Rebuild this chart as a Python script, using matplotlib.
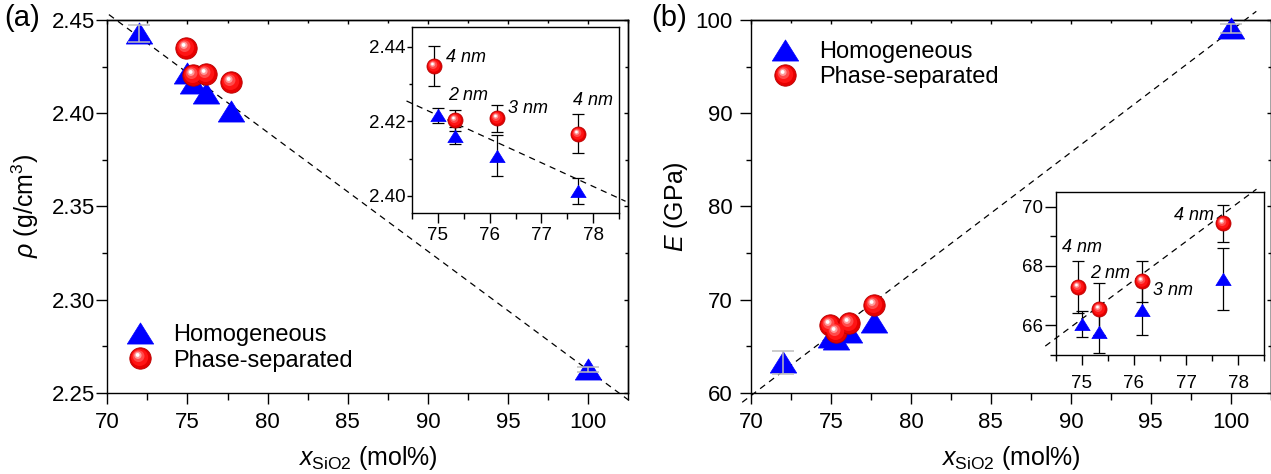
import numpy as np
import matplotlib
matplotlib.use('Agg')
import matplotlib.pyplot as plt
from matplotlib.path import Path
from matplotlib.legend_handler import HandlerTuple
from matplotlib.ticker import MultipleLocator, FormatStrFormatter

plt.rcParams['font.family'] = ['Liberation Sans', 'DejaVu Sans']
plt.rcParams['mathtext.fontset'] = 'custom'
plt.rcParams['mathtext.rm'] = 'Liberation Sans'
plt.rcParams['mathtext.it'] = 'Liberation Sans:italic'
plt.rcParams['mathtext.bf'] = 'Liberation Sans:bold'
plt.rcParams['axes.linewidth'] = 1.0

# ---------------- data ----------------
x_hom = [72.0, 75.0, 75.33, 76.15, 77.7, 100.0]
rho_hom = [2.4428, 2.4216, 2.4161, 2.4107, 2.4012, 2.2625]
rho_hom_err = [0.0046, 0.0020, 0.0023, 0.0055, 0.0035, 0.0015]
E_hom = [63.25, 66.03, 65.76, 66.51, 67.56, 99.1]
E_hom_err = [1.2, 0.44, 0.70, 0.84, 1.05, 0.5]

x_ps = [74.93, 75.33, 76.15, 77.7]
rho_ps = [2.4348, 2.4203, 2.4208, 2.4167]
rho_ps_err = [0.0053, 0.0028, 0.0037, 0.0052]
E_ps = [67.29, 66.55, 67.48, 69.43]
E_ps_err = [0.87, 0.86, 0.69, 0.61]
ps_sizes = ['4 nm', '2 nm', '3 nm', '4 nm']

rho_fit_x = [70.1, 102.6]
rho_fit_y = [2.4529, 2.2455]
E_fit_x = [69.45, 101.6]
E_fit_y = [58.97, 100.93]

labels = ['Homogeneous', 'Phase-separated']

# ---------------- styles ----------------
W, H = 1271, 474
fig = plt.figure(figsize=(W / 100, H / 100), dpi=100)

tri_path = Path([(-1, -0.8), (1, -0.8), (0, 0.8), (-1, -0.8)],
                [Path.MOVETO, Path.LINETO, Path.LINETO, Path.CLOSEPOLY])


def circ_path(cx, cy, r):
    c = Path.circle((cx, cy), r)
    verts = np.vstack([[[1.0, 1.0]], c.vertices])
    codes = np.concatenate([[Path.MOVETO], c.codes])
    return Path(verts, codes)


sphere_layers = [(-0.08, 0.10, 0.80, '#ff1414'),
                 (-0.18, 0.22, 0.55, '#ff4a4a'),
                 (-0.24, 0.30, 0.34, '#ff9a9a'),
                 (-0.27, 0.33, 0.18, '#ffffff')]


def spheres(ax, x, y, ms):
    hs = []
    h, = ax.plot(x, y, ls='none', marker='o', ms=ms, mfc='#e60000',
                 mec='#b80000', mew=0.6, clip_on=False, zorder=5)
    hs.append(h)
    for i, (cx, cy, r, col) in enumerate(sphere_layers):
        h, = ax.plot(x, y, ls='none', marker=circ_path(cx, cy, r), ms=ms,
                     mfc=col, mec='none', mew=0, clip_on=False,
                     zorder=5 + 0.01 * (i + 1))
        hs.append(h)
    return tuple(hs)


def triangles(ax, x, y, ms):
    h, = ax.plot(x, y, ls='none', marker=tri_path, ms=ms, mfc='#0000ff',
                 mec='#0000ff', mew=0.5, clip_on=False, zorder=4)
    return h


def style_main(ax, xmaj, xmin, ymaj, ymin, ypad):
    ax.xaxis.set_major_locator(MultipleLocator(xmaj))
    ax.xaxis.set_minor_locator(MultipleLocator(xmin))
    ax.yaxis.set_major_locator(MultipleLocator(ymaj))
    ax.yaxis.set_minor_locator(MultipleLocator(ymin))
    ax.tick_params(which='both', direction='out', top=False, right=False,
                   width=1.0, labelsize=16)
    ax.tick_params(axis='x', which='major', length=7.7, pad=6.5)
    ax.tick_params(axis='x', which='minor', length=4.8)
    ax.tick_params(axis='y', which='major', length=8, pad=ypad)
    ax.tick_params(axis='y', which='minor', length=3.8)
    sx = ax.secondary_xaxis('top')
    sx.xaxis.set_major_locator(MultipleLocator(xmaj))
    sx.xaxis.set_minor_locator(MultipleLocator(xmin))
    sx.tick_params(which='both', direction='in', labeltop=False, width=1.0)
    sx.tick_params(which='major', length=3)
    sx.tick_params(which='minor', length=2.2)
    sy = ax.secondary_yaxis('right')
    sy.yaxis.set_major_locator(MultipleLocator(ymaj))
    sy.yaxis.set_minor_locator(MultipleLocator(ymin))
    sy.tick_params(which='both', direction='in', labelright=False, width=1.0)
    sy.tick_params(which='major', length=3)
    sy.tick_params(which='minor', length=2.2)


def style_inset(ax, ymaj, ymin, xpad, ylen, ylenmin, ypad):
    ax.xaxis.set_major_locator(MultipleLocator(1))
    ax.xaxis.set_minor_locator(MultipleLocator(0.5))
    ax.yaxis.set_major_locator(MultipleLocator(ymaj))
    ax.yaxis.set_minor_locator(MultipleLocator(ymin))
    ax.tick_params(which='both', direction='out', width=1.0, labelsize=13.5)
    ax.tick_params(axis='x', which='major', length=7.2, pad=xpad)
    ax.tick_params(axis='x', which='minor', length=4.2)
    ax.tick_params(axis='y', which='major', length=ylen, pad=ypad)
    ax.tick_params(axis='y', which='minor', length=ylenmin)


def fx(px):
    return px / W


def fy(py):
    return 1 - py / H


axA = fig.add_axes([fx(107.3), fy(392.7), (628.3 - 107.3) / W, 372.7 / H])
axB = fig.add_axes([fx(751.0), fy(392.7), (1270.7 - 751.0) / W, 372.7 / H])
insA = fig.add_axes([fx(411.7), fy(213.3), (619.3 - 411.7) / W, (213.3 - 26.7) / H], zorder=10)
insB = fig.add_axes([fx(1055.7), fy(355.0), (1264.3 - 1055.7) / W, (355.0 - 191.7) / H], zorder=10)

ms_main_tri, ms_main_sph = 19.0, 15.4
ms_ins_tri, ms_ins_sph = 11.0, 10.8

eb_main = dict(fmt='none', ecolor='#bdbdbd', elinewidth=1.1, capsize=7.8, capthick=1.1, zorder=6)
eb_ins = dict(fmt='none', ecolor='black', elinewidth=0.9, capsize=4, capthick=0.9, zorder=3)

INSET_XLIM = (74.5, 78.5)
xh = np.array(x_hom)
outside = (xh < INSET_XLIM[0]) | (xh > INSET_XLIM[1])
inside = ~outside

panels = [
    (axA, insA, rho_hom, rho_hom_err, rho_ps, rho_ps_err, rho_fit_x, rho_fit_y, (74.4, 78.62)),
    (axB, insB, E_hom, E_hom_err, E_ps, E_ps_err, E_fit_x, E_fit_y, (74.3, 78.35)),
]

legend_anchor = [(0.040, 0.12), (0.0435, 0.880)]
for k, (ax, ins, yh, eh, yp, ep, fxs, fys, irange) in enumerate(panels):
    yh = np.array(yh); eh = np.array(eh)
    # main
    ax.plot(fxs, fys, ls=(0, (5, 4)), color='black', lw=0.9, clip_on=False, zorder=2)
    th = triangles(ax, x_hom, yh, ms_main_tri)
    sh = spheres(ax, x_ps, yp, ms_main_sph)
    ax.errorbar(xh[outside], yh[outside], yerr=eh[outside], **eb_main)
    ax.legend([th, sh], labels, loc='center left', bbox_to_anchor=legend_anchor[k],
              frameon=False, fontsize=17, handlelength=1.0, handletextpad=0.92,
              labelspacing=0.15, borderpad=0, borderaxespad=0, numpoints=1,
              handler_map={tuple: HandlerTuple(ndivide=1, pad=0)})
    # inset
    ins.set_xlim(*INSET_XLIM)
    ixs = np.array(irange)
    ins.plot(ixs, np.interp(ixs, fxs, fys), ls=(0, (5, 4)), color='black', lw=0.9,
             clip_on=False, zorder=2)
    ins.errorbar(xh[inside], yh[inside], yerr=eh[inside], **eb_ins)
    ins.errorbar(x_ps, yp, yerr=ep, **eb_ins)
    triangles(ins, xh[inside], yh[inside], ms_ins_tri)
    spheres(ins, x_ps, yp, ms_ins_sph)

# main axes ranges and ticks
axA.set_xlim(70, 102.5)
axA.set_ylim(2.25, 2.45)
style_main(axA, 5, 2.5, 0.05, 0.025, 0.5)
axA.yaxis.set_major_formatter(FormatStrFormatter('%.2f'))
axB.set_xlim(70, 102.5)
axB.set_ylim(60, 100)
style_main(axB, 5, 2.5, 10, 5, 5)

for ax in (axA, axB):
    ax.set_xlabel(r'$x_{\mathrm{SiO2}}$ (mol%)', fontsize=18)
    ax.xaxis.set_label_coords(0.5, -0.138)
axA.set_ylabel(r'$\rho$ (g/cm$^3$)', fontsize=18)
axA.yaxis.set_label_coords(-0.127, 0.5)
axB.set_ylabel(r'$E$ (GPa)', fontsize=18)
axB.yaxis.set_label_coords(-0.117, 0.5)

# insets
insA.set_ylim(2.3953, 2.4454)
style_inset(insA, 0.02, 0.01, 2.5, 3.6, 2.4, 1.0)
insA.yaxis.set_major_formatter(FormatStrFormatter('%.2f'))
insB.set_ylim(65, 70.5)
style_inset(insB, 2, 1, 7.5, 7.7, 4.1, 1.2)

# size annotations (offsets in points)
offA = [(8.6, 6.5, 'left'), (-4.7, 18, 'left'), (8, 7.2, 'left'), (-3.3, 23.8, 'left')]
offB = [(-11.8, 28.4, 'left'), (-6.3, 25.2, 'left'), (8.1, -6.8, 'left'), (-6.1, 6, 'right')]
for ins, yp, offs in ((insA, rho_ps, offA), (insB, E_ps, offB)):
    for xv, yv, lab, (dx, dy, ha) in zip(x_ps, yp, ps_sizes, offs):
        ins.annotate(lab, xy=(xv, yv), xytext=(dx, dy), textcoords='offset points',
                     ha=ha, va='center', fontsize=13, fontstyle='italic', zorder=8)

fig.text(fx(4), fy(4), '(a)', fontsize=21, ha='left', va='top')
fig.text(fx(651), fy(4), '(b)', fontsize=21, ha='left', va='top')

fig.savefig('out.png', dpi=100)
